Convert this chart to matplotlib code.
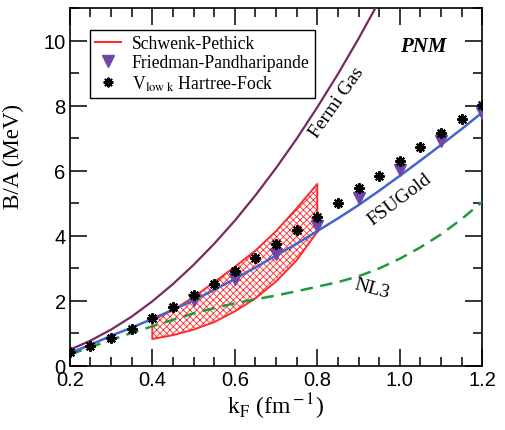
import matplotlib
matplotlib.use("Agg")
import matplotlib.pyplot as plt
from matplotlib.lines import Line2D
from matplotlib.ticker import MultipleLocator, FormatStrFormatter

plt.rcParams['font.family'] = ['Liberation Serif', 'DejaVu Serif']
plt.rcParams['mathtext.fontset'] = 'stix'
plt.rcParams['hatch.linewidth'] = 0.6

# k_F grid (fm^-1)
kf = [0.2, 0.25, 0.3, 0.35, 0.4, 0.45, 0.5, 0.55, 0.6, 0.65, 0.7,
      0.75, 0.8, 0.85, 0.9, 0.95, 1.0, 1.05, 1.1, 1.15, 1.2]

# free Fermi gas, leaves the frame near 0.94
kf_fermi = [0.2, 0.25, 0.3, 0.35, 0.4, 0.45, 0.5, 0.55, 0.6, 0.65,
            0.7, 0.75, 0.8, 0.85, 0.9, 0.95]
fermi = [0.50, 0.78, 1.12, 1.52, 1.99, 2.52, 3.11, 3.76, 4.47, 5.25,
         6.09, 6.99, 7.96, 8.98, 10.07, 11.22]

fsugold = [0.40, 0.65, 0.93, 1.18, 1.45, 1.73, 2.02, 2.34, 2.68, 3.03, 3.40,
           3.76, 4.15, 4.54, 4.95, 5.39, 5.85, 6.32, 6.80, 7.29, 7.80]

nl3 = [0.35, 0.58, 0.80, 1.02, 1.22, 1.42, 1.62, 1.78, 1.93, 2.05, 2.17,
       2.30, 2.44, 2.58, 2.76, 3.00, 3.30, 3.65, 4.05, 4.52, 5.05]

vlowk = [0.42, 0.62, 0.87, 1.14, 1.48, 1.83, 2.17, 2.53, 2.91, 3.33, 3.74,
         4.18, 4.59, 5.02, 5.47, 5.86, 6.31, 6.73, 7.17, 7.60, 8.04]

kf_fp = [0.5, 0.6, 0.7, 0.8, 0.9, 1.0, 1.1, 1.2]
fp = [2.04, 2.69, 3.46, 4.30, 5.16, 6.03, 6.91, 7.78]

# Schwenk-Pethick band
kf_sp = [0.4, 0.45, 0.5, 0.55, 0.6, 0.65, 0.7, 0.75, 0.8]
sp_low = [0.83, 0.95, 1.12, 1.35, 1.68, 2.08, 2.60, 3.25, 4.13]
sp_high = [1.40, 1.72, 2.12, 2.58, 3.05, 3.55, 4.15, 4.85, 5.60]

red = '#ff2a2a'
purple = '#7a2860'
blue = '#4466cc'
green = '#1f9a3c'
violet = '#7046a8'

fig = plt.figure(figsize=(5.06, 4.31), dpi=100)
ax = fig.add_axes([0.138, 0.1485, 0.815, 0.8295])

ax.fill_between(kf_sp, sp_low, sp_high, facecolor='none', edgecolor=red,
                hatch='xxxxx', lw=1.4, zorder=2)
ax.plot(kf_fermi, fermi, color=purple, lw=1.6, zorder=3)
ax.plot(kf, nl3, color=green, lw=1.8, ls=(0, (5, 3)), zorder=3)
ax.plot(kf, fsugold, color=blue, lw=1.8, zorder=3)
ax.plot(kf_fp, fp, ls='none', marker='v', ms=9, color=violet, zorder=4)
ax.plot(kf, vlowk, ls='none', marker=(8, 2, 0), ms=7.5, mew=1.5,
        color='black', zorder=5)

ax.set_xlim(0.2, 1.2)
ax.set_ylim(0, 11)
ax.xaxis.set_major_locator(MultipleLocator(0.2))
ax.xaxis.set_minor_locator(MultipleLocator(0.05))
ax.xaxis.set_major_formatter(FormatStrFormatter('%.1f'))
ax.yaxis.set_major_locator(MultipleLocator(2))
ax.yaxis.set_minor_locator(MultipleLocator(1))
ax.tick_params(which='both', direction='in', top=True, right=True, width=1.1)
ax.tick_params(which='major', length=12, labelsize=14.5, pad=3)
ax.tick_params(which='minor', length=6.5)
for lab in ax.get_xticklabels() + ax.get_yticklabels():
    lab.set_family('Liberation Sans')
for s in ax.spines.values():
    s.set_linewidth(1.2)

ax.set_xlabel(r'k$_{\rm F}$ (fm$^{\rm -1}$)', fontsize=17, labelpad=1)
ax.set_ylabel('B/A (MeV)', fontsize=16.5)
ax.yaxis.set_label_coords(-0.11, 0.59)

ax.text(1.057, 9.85, 'PNM', fontsize=15, fontweight='bold', style='italic',
        ha='center', va='center')
ax.text(0.848, 8.12, 'Fermi Gas', fontsize=14, rotation=55,
        ha='center', va='center')
ax.text(1.0, 5.15, 'FSUGold', fontsize=14, rotation=37,
        ha='center', va='center')
ax.text(0.933, 2.38, 'NL3', fontsize=14, rotation=-15,
        ha='center', va='center')

handles = [
    Line2D([], [], color=red, lw=1.5),
    Line2D([], [], ls='none', marker='v', ms=9, color=violet),
    Line2D([], [], ls='none', marker=(8, 2, 0), ms=7, mew=1.4, color='black'),
]
labels = ['Schwenk-Pethick', 'Friedman-Pandharipande',
          r'V$_{\rm low\ k}$ Hartree-Fock']
leg = ax.legend(handles, labels, loc='upper left', bbox_to_anchor=(0.048, 0.94),
                borderaxespad=0, fontsize=12.7, fancybox=False, framealpha=1,
                edgecolor='black', handlelength=1.5, handletextpad=0.6,
                labelspacing=0.12, borderpad=0.3)
leg.get_frame().set_linewidth(1.0)

fig.savefig('out.png', dpi=100)
